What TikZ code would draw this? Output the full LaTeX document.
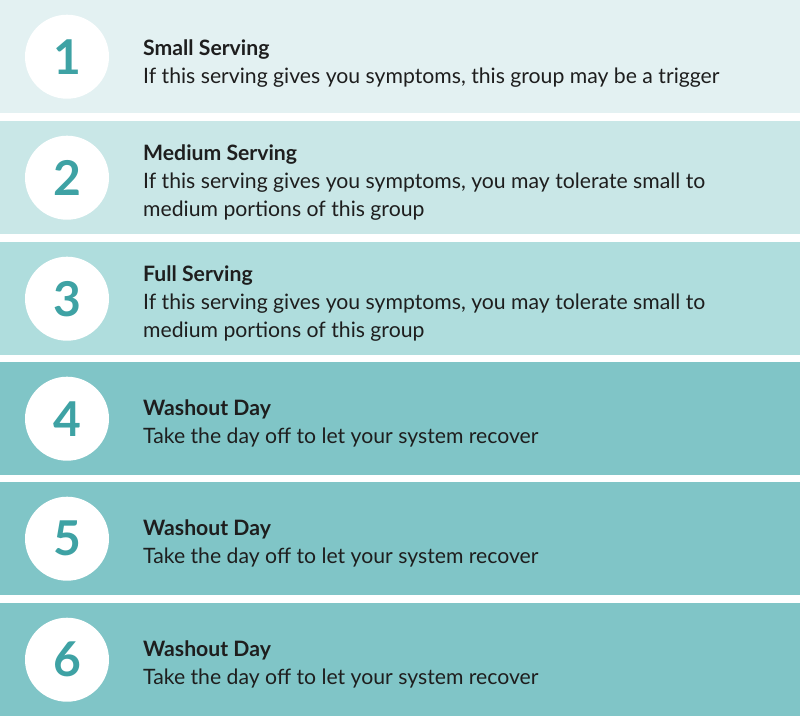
\documentclass[tikz,border=0pt]{standalone}
\usepackage{fontspec}
\setmainfont{Lato}
\usepackage{tikz}
\usetikzlibrary{positioning}
\definecolor{bandA}{HTML}{E3F1F2}
\definecolor{bandB}{HTML}{C9E7E7}
\definecolor{bandC}{HTML}{AFDDDD}
\definecolor{bandD}{HTML}{80C5C7}
\definecolor{numteal}{HTML}{3EA2A4}
\definecolor{txt}{HTML}{1E1E1E}
\tikzset{
  band/.style={
    rectangle, inner sep=0pt, anchor=north west,
    minimum width=800pt, minimum height=113pt
  },
  numcirc/.style={
    circle, fill=white, minimum size=84pt, inner sep=0pt,
    text=numteal, font=\fontsize{48}{48}\selectfont\bfseries
  },
  desc/.style={
    anchor=west, align=left, inner sep=0pt, text=txt,
    font=\fontsize{21.2}{28}\selectfont
  }
}
\begin{document}
\begin{tikzpicture}[x=1pt, y=1pt]
  \useasboundingbox (0,0) rectangle (800,-716);

  \node[band, fill=bandA] (b1) at (0,0) {};
  \node[band, fill=bandB] (b2) at (0,-121) {};
  \node[band, fill=bandC] (b3) at (0,-242) {};
  \node[band, fill=bandD] (b4) at (0,-362) {};
  \node[band, fill=bandD] (b5) at (0,-482) {};
  \node[band, fill=bandD] (b6) at (0,-603) {};

  \node[numcirc] (n1) at ([xshift=67pt]b1.west) {1};
  \node[numcirc] (n2) at ([xshift=67pt]b2.west) {2};
  \node[numcirc] (n3) at ([xshift=67pt]b3.west) {3};
  \node[numcirc] (n4) at ([xshift=67pt]b4.west) {4};
  \node[numcirc] (n5) at ([xshift=67pt]b5.west) {5};
  \node[numcirc] (n6) at ([xshift=67pt]b6.west) {6};

  \node[desc] (d1) at ([xshift=143pt,yshift=-7pt]b1.west)
    {\textbf{Small Serving}\\If this serving gives you symptoms, this group may be a trigger};
  \node[desc] (d2) at ([xshift=143pt,yshift=-5pt]b2.west)
    {\textbf{Medium Serving}\\If this serving gives you symptoms, you may tolerate small to\\medium portions of this group};
  \node[desc] (d3) at ([xshift=143pt,yshift=-5pt]b3.west)
    {\textbf{Full Serving}\\If this serving gives you symptoms, you may tolerate small to\\medium portions of this group};
  \node[desc] (d4) at ([xshift=143pt,yshift=-5pt]b4.west)
    {\textbf{Washout Day}\\Take the day off to let your system recover};
  \node[desc] (d5) at ([xshift=143pt,yshift=-5pt]b5.west)
    {\textbf{Washout Day}\\Take the day off to let your system recover};
  \node[desc] (d6) at ([xshift=143pt,yshift=-5pt]b6.west)
    {\textbf{Washout Day}\\Take the day off to let your system recover};
\end{tikzpicture}
\end{document}
